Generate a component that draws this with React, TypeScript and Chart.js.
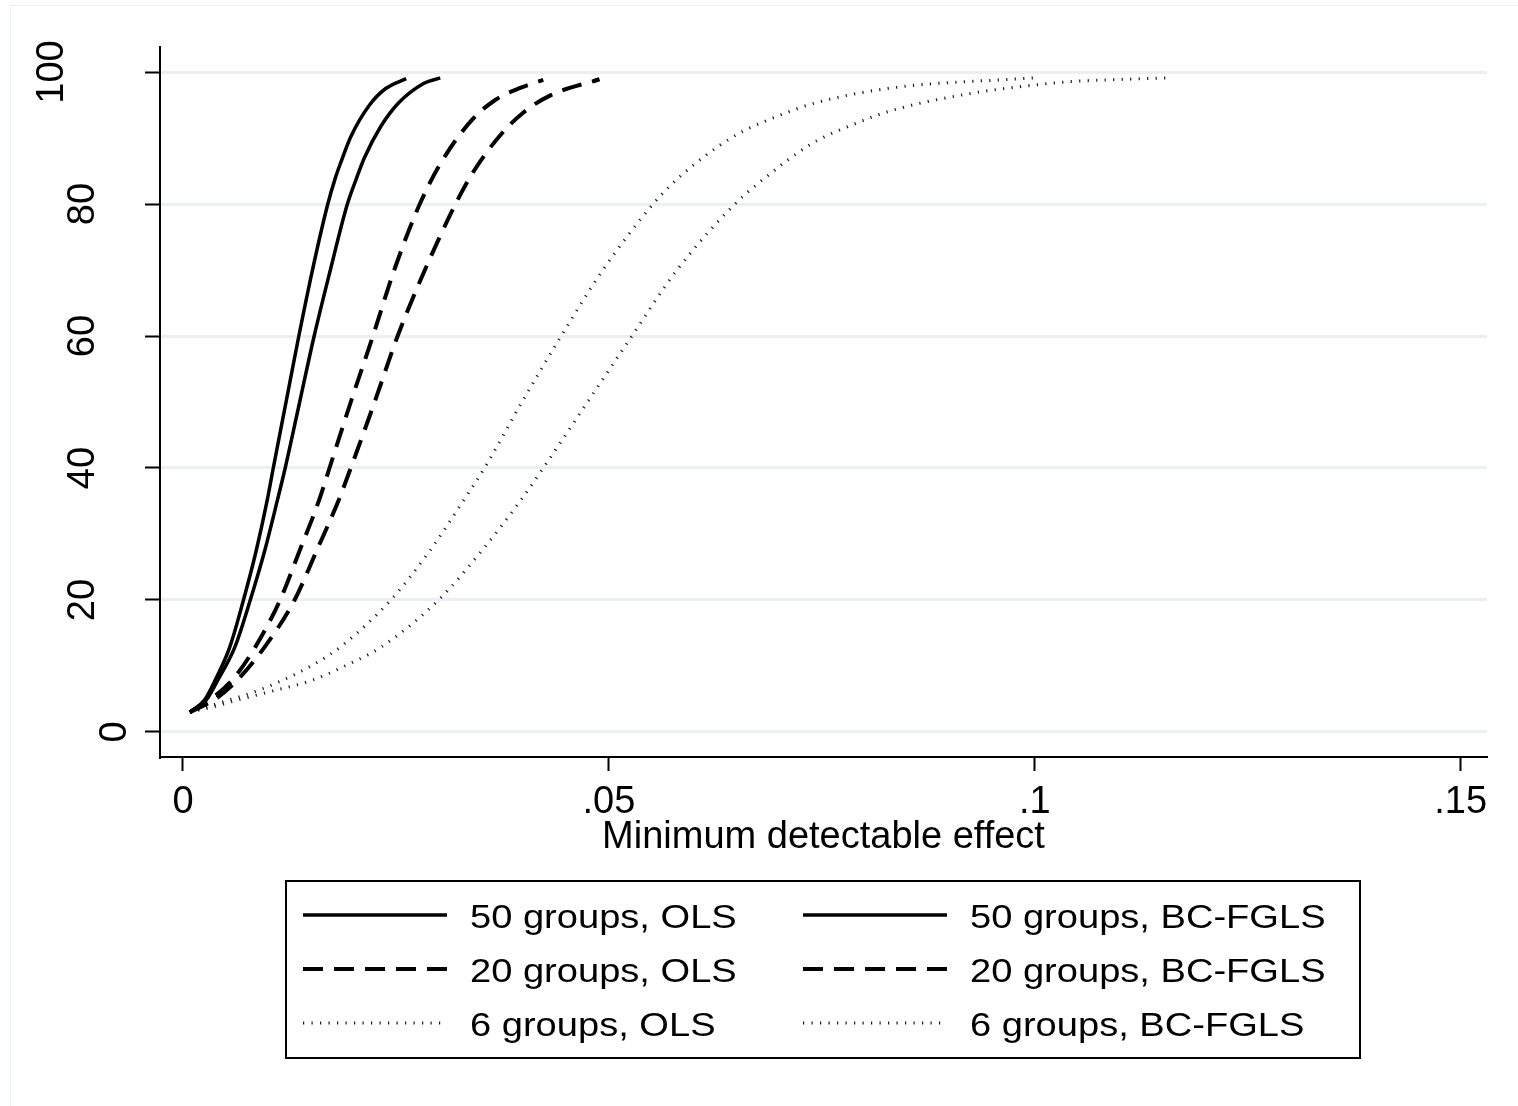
import React, { useEffect, useRef } from "react";
import { Chart, registerables } from "chart.js";

Chart.register(...registerables);

// ---- data ----
const seriesLabels = [
  "50 groups, OLS",
  "50 groups, BC-FGLS",
  "20 groups, OLS",
  "20 groups, BC-FGLS",
  "6 groups, OLS",
  "6 groups, BC-FGLS",
];

const mde50OLS = [0.0008, 0.0025, 0.0038, 0.0055, 0.0071, 0.0086, 0.0099, 0.0106, 0.0121, 0.0136, 0.0152, 0.017, 0.0179, 0.0185, 0.0197, 0.0219, 0.0238, 0.0262];
const pow50OLS = [3, 4.8, 7.9, 12.9, 20, 27.5, 35.2, 40, 50, 60, 70, 80, 84, 86.2, 90.2, 95, 97.5, 99];

const mde50BC = [0.0008, 0.0027, 0.0041, 0.0061, 0.0079, 0.0096, 0.0111, 0.012, 0.0137, 0.0154, 0.0173, 0.0193, 0.0204, 0.0213, 0.0232, 0.0253, 0.0283, 0.0302];
const pow50BC = [3, 4.8, 7.9, 12.9, 20, 27.5, 35.2, 40, 50, 60, 70, 80, 84, 87, 91.7, 95.3, 98.3, 99.1];

const mde20OLS = [0.0008, 0.0033, 0.0058, 0.0085, 0.0114, 0.0137, 0.016, 0.0172, 0.0197, 0.0223, 0.0248, 0.0278, 0.0305, 0.0339, 0.0367, 0.0396, 0.0423];
const pow20OLS = [3, 5, 7.9, 12.9, 20, 27.5, 35.2, 40, 50, 60, 70, 80, 86.7, 92.7, 95.8, 97.6, 98.8];

const mde20BC = [0.0008, 0.0038, 0.0064, 0.0096, 0.0131, 0.0157, 0.0183, 0.0197, 0.0225, 0.0252, 0.0284, 0.032, 0.034, 0.0371, 0.0399, 0.0432, 0.0489];
const pow20BC = [3, 5, 7.9, 12.9, 20, 27.5, 35.2, 40, 50, 60, 70, 80, 84.7, 90.2, 93.8, 96.5, 98.9];

const mde6OLS = [0.0008, 0.0045, 0.0082, 0.0118, 0.0153, 0.0185, 0.0244, 0.029, 0.033, 0.0354, 0.0398, 0.0444, 0.0493, 0.0552, 0.0582, 0.0646, 0.0692, 0.0742, 0.0833, 0.0998];
const pow6OLS = [3, 4.5, 6, 7.9, 10.2, 12.9, 20, 27.5, 35.2, 40, 50, 60, 70, 80, 84, 90.2, 93, 95.3, 97.6, 99.1];

const mde6BC = [0.0008, 0.0035, 0.0063, 0.0102, 0.0153, 0.019, 0.0233, 0.03, 0.0351, 0.0397, 0.0423, 0.0475, 0.0527, 0.058, 0.0648, 0.0677, 0.0739, 0.0786, 0.0833, 0.0927, 0.0998, 0.1037, 0.1154];
const pow6BC = [3, 3.8, 4.8, 6.1, 7.9, 10, 12.9, 20, 27.5, 35.2, 40, 50, 60, 70, 80, 83.3, 89.2, 92, 94.2, 96.8, 98, 98.5, 99.1];

const xTickValues = [0, 0.05, 0.1, 0.15];
const xTickLabels = ["0", ".05", ".1", ".15"];
const yTickValues = [0, 20, 40, 60, 80, 100];
const yTickLabels = ["0", "20", "40", "60", "80", "100"];

const xTitle = "Minimum detectable effect";

// ---- styles ----
const FONT = '"Liberation Sans", Arial, Helvetica, sans-serif';
const styleSolid = { borderColor: "#000", borderWidth: 3.5, borderDash: [] as number[] };
const styleDash = { borderColor: "#000", borderWidth: 4, borderDash: [20, 11] };
const styleDot = { borderColor: "#1a1a1a", borderWidth: 3, borderDash: [1.2, 7.3] };

const pairs = (xs: number[], ys: number[]) => xs.map((x, i) => ({ x, y: ys[i] }));

const framePlugin = {
  id: "frame",
  beforeDraw(chart: any) {
    const ctx = chart.ctx;
    ctx.save();
    ctx.fillStyle = "#fff";
    ctx.fillRect(0, 0, chart.width, chart.height);
    ctx.strokeStyle = "#eaeff2";
    ctx.lineWidth = 1;
    ctx.strokeRect(10.5, 5.5, 4000, 4000);
    ctx.restore();
  },
};

const yLabelPlugin = {
  id: "yLabels",
  afterDraw(chart: any) {
    const ctx = chart.ctx;
    const s = chart.scales.y;
    const size = 38;
    ctx.save();
    ctx.fillStyle = "#000";
    ctx.font = `${size}px ${FONT}`;
    ctx.textAlign = "center";
    ctx.textBaseline = "alphabetic";
    yTickValues.forEach((v, i) => {
      const label = yTickLabels[i];
      const w = ctx.measureText(label).width;
      const py = s.getPixelForValue(v);
      const cx = s.right - 16.6 - 1.49 * w;
      ctx.save();
      ctx.translate(cx, py);
      ctx.rotate(-Math.PI / 2);
      ctx.fillText(label, 0, 0.358 * size);
      ctx.restore();
    });
    ctx.restore();
  },
};

const legendPlugin = {
  id: "boxLegend",
  afterDraw(chart: any) {
    const ctx = chart.ctx;
    const box = { left: 286, top: 881, right: 1360, bottom: 1058 };
    ctx.save();
    ctx.strokeStyle = "#000";
    ctx.lineWidth = 2;
    ctx.strokeRect(box.left, box.top, box.right - box.left, box.bottom - box.top);
    const colX = [303, 803];
    const rowY = [915, 969, 1023];
    const lineLen = 144;
    chart.data.datasets.forEach((ds: any, i: number) => {
      const col = i % 2;
      const row = Math.floor(i / 2);
      const x = colX[col];
      const y = rowY[row];
      ctx.save();
      ctx.strokeStyle = ds.borderColor;
      ctx.lineWidth = ds.borderWidth;
      ctx.setLineDash(ds.borderDash || []);
      ctx.beginPath();
      ctx.moveTo(x, y);
      ctx.lineTo(x + lineLen, y);
      ctx.stroke();
      ctx.restore();
      ctx.save();
      ctx.fillStyle = "#000";
      ctx.font = `34px ${FONT}`;
      ctx.textBaseline = "alphabetic";
      ctx.translate(x + lineLen + 23, y + 13);
      ctx.scale(1.12, 1);
      ctx.fillText(ds.label, 0, 0);
      ctx.restore();
    });
    ctx.restore();
  },
};

export default function App() {
  const ref = useRef<HTMLCanvasElement | null>(null);

  useEffect(() => {
    if (!ref.current) return;
    const series = [
      { xs: mde50OLS, ys: pow50OLS, st: styleSolid },
      { xs: mde50BC, ys: pow50BC, st: styleSolid },
      { xs: mde20OLS, ys: pow20OLS, st: styleDash },
      { xs: mde20BC, ys: pow20BC, st: styleDash },
      { xs: mde6OLS, ys: pow6OLS, st: styleDot },
      { xs: mde6BC, ys: pow6BC, st: styleDot },
    ];
    const chart = new Chart(ref.current, {
      type: "line",
      data: {
        datasets: series.map((s, i) => ({
          label: seriesLabels[i],
          data: pairs(s.xs, s.ys),
          borderColor: s.st.borderColor,
          borderWidth: s.st.borderWidth,
          borderDash: s.st.borderDash,
          pointRadius: 0,
          fill: false,
          cubicInterpolationMode: "monotone" as const,
          borderCapStyle: "butt" as const,
        })),
      },
      options: {
        animation: false,
        responsive: false,
        devicePixelRatio: 1,
        layout: { padding: { left: 0, top: 47, right: 31, bottom: 246 } },
        plugins: {
          legend: { display: false },
          tooltip: { enabled: false },
        },
        scales: {
          x: {
            type: "linear",
            min: -0.0027,
            max: 0.1531,
            afterBuildTicks: (axis: any) => {
              axis.ticks = xTickValues.map((v) => ({ value: v }));
            },
            afterFit: (axis: any) => {
              axis.height = 103;
            },
            ticks: {
              autoSkip: false,
              maxRotation: 0,
              minRotation: 0,
              padding: 9,
              color: "#000",
              font: { family: FONT, size: 38 },
              callback: (v: any) => {
                const idx = xTickValues.indexOf(Number(v));
                return idx >= 0 ? xTickLabels[idx] : "";
              },
            },
            grid: {
              display: true,
              drawOnChartArea: false,
              drawTicks: true,
              tickLength: 14,
              tickColor: "#000",
              tickWidth: 2,
            },
            border: { display: true, color: "#000", width: 2 },
            title: {
              display: true,
              text: xTitle,
              color: "#000",
              font: { family: FONT, size: 38 },
              padding: { top: 0, bottom: 0 },
            },
          },
          y: {
            type: "linear",
            min: -3.79,
            max: 103.79,
            afterBuildTicks: (axis: any) => {
              axis.ticks = yTickValues.map((v) => ({ value: v }));
            },
            afterFit: (axis: any) => {
              axis.width = 160;
            },
            ticks: { display: false },
            grid: {
              display: true,
              drawOnChartArea: true,
              drawTicks: true,
              color: "#e9f0f2",
              lineWidth: 3,
              tickLength: 15,
              tickColor: "#000",
              tickWidth: 2,
            },
            border: { display: true, color: "#000", width: 2 },
          },
        },
      },
      plugins: [framePlugin, yLabelPlugin, legendPlugin],
    } as any);
    return () => chart.destroy();
  }, []);

  return (
    <div style={{ position: "absolute", left: 0, top: 0, width: 1518, height: 1106 }}>
      <canvas ref={ref} width={1518} height={1106} style={{ display: "block" }} />
    </div>
  );
}
